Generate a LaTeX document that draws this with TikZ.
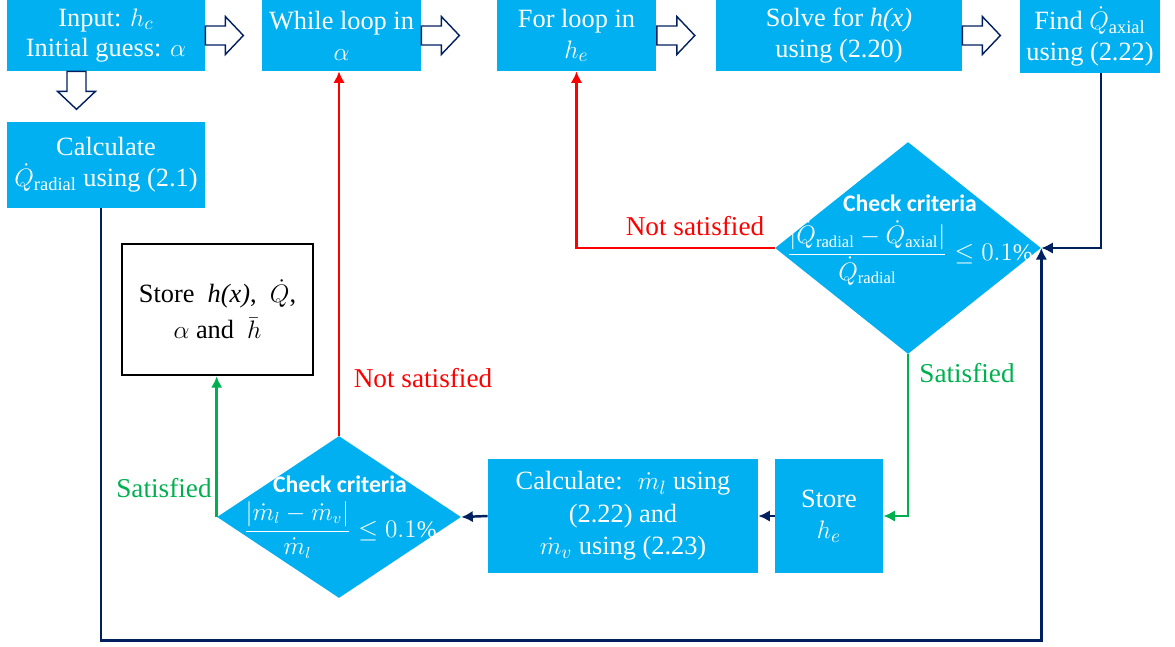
\documentclass[tikz,border=0pt]{standalone}
\usepackage{fontspec}
\setmainfont{Liberation Serif}
\newfontfamily\chkfont{Carlito}
\usetikzlibrary{shapes.geometric,calc,arrows.meta}
\definecolor{boxblue}{HTML}{00B0F0}
\definecolor{navyln}{HTML}{002060}
\definecolor{okgreen}{HTML}{00B050}
\definecolor{notred}{HTML}{FF0000}
\newcommand{\holarrow}[2]{\draw[hollow,shift={#1},rotate=#2] (-19,-9.5) -- (1,-9.5) -- (1,-19) -- (19,0) -- (1,19) -- (1,9.5) -- (-19,9.5) -- cycle;}
\begin{document}
\begin{tikzpicture}[x=0.02cm,y=-0.02cm,>={Latex[length=2.3mm,width=2.3mm]},
   bluebox/.style={rectangle,fill=boxblue,text=white,align=center,inner sep=0pt,font=\fontsize{15}{17.5}\selectfont},
   storebox/.style={rectangle,draw=black,line width=1.4pt,align=center,inner sep=0pt,font=\fontsize{15}{17.5}\selectfont},
   chkdia/.style={diamond,fill=boxblue,inner sep=0pt},
   chktext/.style={text=white,align=center,inner sep=0pt,font=\fontsize{13.5}{16}\selectfont},
   hollow/.style={draw=navyln,fill=white,line width=0.8pt},
   navy/.style={draw=navyln,line width=1.4pt},
   redln/.style={draw=notred,line width=1.4pt},
   greenln/.style={draw=okgreen,line width=1.4pt},
   lbl/.style={inner sep=0pt,font=\fontsize{15.5}{18}\selectfont}]
   \useasboundingbox (0,0) rectangle (1175,646);
   %top row
   \node[bluebox,minimum width=3.96cm,minimum height=1.42cm] (inp) at (106,35.5) {Input: $h_c$\\Initial guess: $\alpha$};
   \node[bluebox,minimum width=3.18cm,minimum height=1.42cm] (whl) at (341.5,35.5) {While loop in\\$\alpha$};
   \node[bluebox,minimum width=3.2cm,minimum height=1.42cm] (forl) at (576.5,35.5) {For loop in\\$h_e$};
   \node[bluebox,minimum width=4.92cm,minimum height=1.42cm] (solve) at (839,35.5) {Solve for \textit{h(x)}\\using (2.20)};
   \node[bluebox,minimum width=2.8cm,minimum height=1.46cm] (find) at (1090,36.5) {Find $\dot{Q}_{\mathrm{axial}}$\\using (2.22)};
   \node[bluebox,minimum width=3.96cm,minimum height=1.72cm] (rad) at (106,165) {Calculate\\$\dot{Q}_{\mathrm{radial}}$ using (2.1)};
   %hollow arrows
   \holarrow{($(inp.east)+(19,0)$)}{0}
   \holarrow{($(whl.east)+(19,0)$)}{0}
   \holarrow{($(forl.east)+(19,0)$)}{0}
   \holarrow{($(solve.east)+(19,0)$)}{0}
   \holarrow{($(inp.south)+(-29.5,19)$)}{-90}
   %checks
   \node[chkdia,minimum width=5.32cm,minimum height=4.24cm] (chk1) at (908,248) {};
   \node[chktext] (chk1t) at (910,240) {{\chkfont\bfseries\fontsize{13.5}{15}\selectfont Check criteria}\\[4pt]
      $\displaystyle\frac{|\dot{Q}_{\mathrm{radial}}-\dot{Q}_{\mathrm{axial}}|}{\dot{Q}_{\mathrm{radial}}}\le 0.1\%$};
   \node[chkdia,minimum width=4.88cm,minimum height=3.24cm] (chk2) at (339,517) {};
   \node[chktext] (chk2t) at (340,517) {{\chkfont\bfseries\fontsize{13.5}{15}\selectfont Check criteria}\\[4pt]
      $\displaystyle\frac{|\dot{m}_l-\dot{m}_v|}{\dot{m}_l}\le 0.1\%$};
   %bottom row
   \node[bluebox,minimum width=2.16cm,minimum height=2.28cm] (he) at (829,516) {Store\\$h_e$};
   \node[bluebox,minimum width=5.4cm,minimum height=2.28cm,font=\fontsize{15}{18.5}\selectfont] (mdot) at (623,516) {Calculate:~ $\dot{m}_l$ using\\(2.22) and\\$\dot{m}_v$ using (2.23)};
   \node[storebox,minimum width=3.82cm,minimum height=2.62cm] (store) at (217.5,309.5) {Store~ \textit{h(x)},~ $\dot{Q}$,\\[3pt]$\alpha$ and~ $\bar{h}$};
   %connectors
   \draw[redln,->] (chk1.west) -| (forl.south);
   \draw[redln,->] (chk2.north) -- (chk2.north |- whl.south);
   \draw[greenln,->] (chk1.south) |- (he.east);
   \draw[greenln,->] (chk2.west) -- (chk2.west |- store.south);
   \draw[navy,->] ($(find.south)+(11,0)$) |- (chk1.east);
   \draw[navy,->] ($(rad.south)+(-5,0)$) -- ++(0,432) -| (chk1.east);
   \draw[navy,->] (he.west) -- (mdot.east);
   \draw[navy,->] (mdot.west) -- (chk2.east);
   %labels
   \node[lbl,text=notred] (ns1) at (695,226) {Not satisfied};
   \node[lbl,text=notred] (ns2) at (423,378) {Not satisfied};
   \node[lbl,text=okgreen] (sat1) at (967,373) {Satisfied};
   \node[lbl,text=okgreen] (sat2) at (164,488) {Satisfied};
\end{tikzpicture}
\end{document}
